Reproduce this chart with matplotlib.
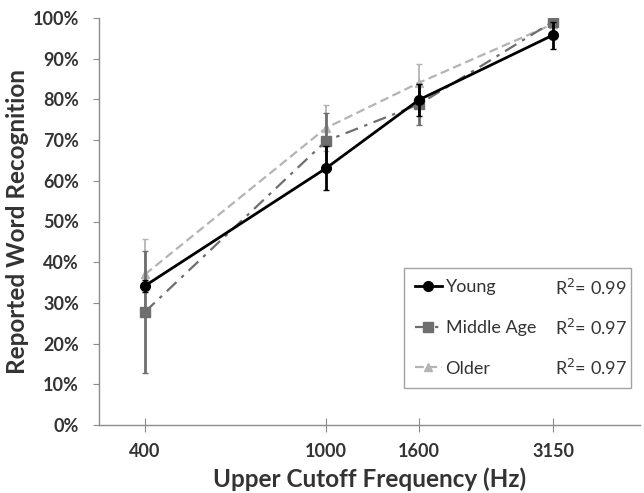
import matplotlib.pyplot as plt
from matplotlib.lines import Line2D
from matplotlib.ticker import FixedLocator, NullLocator, PercentFormatter

plt.rcParams["font.family"] = ["Lato", "DejaVu Sans"]

# Upper cutoff frequency conditions (Hz)
freqs = [400, 1000, 1600, 3150]

# Mean reported word recognition (%) and error half-widths per age group
young = [34.2, 63.1, 79.9, 95.8]
young_err = [1.5, 5.4, 4.0, 3.3]
middle = [27.8, 69.8, 78.8, 99.1]
middle_err = [15.0, 6.8, 5.0, 0.8]
older = [37.0, 73.0, 84.1, 98.5]
older_err = [8.7, 5.6, 4.6, 1.0]

group_labels = ["Young", "Middle Age", "Older"]
r2_labels = ["0.99", "0.97", "0.97"]

fig = plt.figure(figsize=(6.44, 4.93), dpi=100)
ax = fig.add_axes([99 / 644, 68 / 493, 541 / 644, 407 / 493])

txt = "#333333"
c_young, c_mid, c_old = "#000000", "#6e6e6e", "#b4b4b4"
styles = [
    dict(color=c_young, ls="-", lw=2, marker="o", ms=7),
    dict(color=c_mid, ls=(0, (6, 3, 1.5, 3)), lw=1.6, marker="s", ms=6.5),
    dict(color=c_old, ls=(0, (4, 2)), lw=1.6, marker="^", ms=6),
]

ax.errorbar(freqs, older, yerr=older_err, elinewidth=1.3, capsize=2, zorder=2, **styles[2])
ax.errorbar(freqs, middle, yerr=middle_err, elinewidth=2, capsize=2, zorder=3, **styles[1])
ax.errorbar(freqs, young, yerr=young_err, elinewidth=2, capsize=2, zorder=4, **styles[0])

ax.set_xscale("log")
ax.set_xlim(317, 4892)
ax.set_ylim(0, 100)
ax.xaxis.set_major_locator(FixedLocator(freqs))
ax.xaxis.set_minor_locator(NullLocator())
ax.set_xticklabels([str(f) for f in freqs])
ax.yaxis.set_major_locator(FixedLocator(range(0, 101, 10)))
ax.yaxis.set_major_formatter(PercentFormatter(decimals=0))

for side in ("top", "right"):
    ax.spines[side].set_visible(False)
for side in ("left", "bottom"):
    ax.spines[side].set_color("#8c8c8c")
    ax.spines[side].set_linewidth(1)

ax.tick_params(axis="y", direction="out", length=4.3, color="#8c8c8c", pad=10)
ax.tick_params(axis="x", direction="inout", length=10, color="#8c8c8c", pad=8)
for lbl in ax.get_xticklabels() + ax.get_yticklabels():
    lbl.set_fontweight("bold")
    lbl.set_fontsize(13)
    lbl.set_color(txt)

ax.set_xlabel("Upper Cutoff Frequency (Hz)", fontsize=17.5, fontweight="bold", color=txt, labelpad=5)
ax.set_ylabel("Reported Word Recognition", fontsize=17.5, fontweight="bold", color=txt, labelpad=3)

# Legend with plain line+marker handles, boxed in the lower right
handles = [Line2D([], [], **s) for s in styles]
leg = ax.legend(handles, group_labels, loc="center",
                bbox_to_anchor=(305 / 541, 37 / 407, 227 / 541, 120 / 407),
                mode="expand", frameon=True, fancybox=False, fontsize=13,
                handlelength=1.5, handletextpad=0.2, labelspacing=1.37,
                borderpad=0.6, borderaxespad=0)
leg.get_frame().set_edgecolor("#8c8c8c")
leg.get_frame().set_linewidth(1)
for t in leg.get_texts():
    t.set_color(txt)

# R-squared values next to each legend row
for i, r2 in enumerate(r2_labels):
    fig.text(627 / 644, (493 - 288 - i * 40) / 493, f"R$^2$= {r2}",
             ha="right", va="center", fontsize=13, color=txt)

fig.savefig("out.png", dpi=100)
